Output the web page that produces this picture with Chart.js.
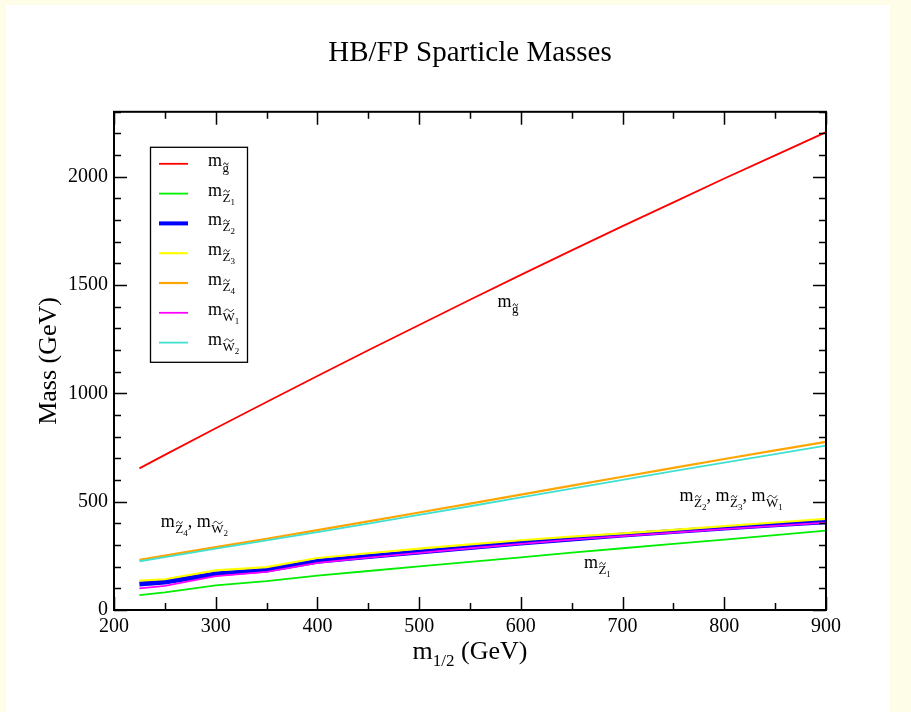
<!DOCTYPE html>
<html>
<head>
<meta charset="utf-8">
<script src="https://cdn.jsdelivr.net/npm/chart.js@4.4.1/dist/chart.umd.min.js"></script>
<style>
  html, body { margin: 0; padding: 0; background: #fdfde8; overflow: hidden; }
  #sheet { position: absolute; left: 6px; top: 5px; width: 884px; height: 707px; background: #fff; }
  #wrap { position: absolute; left: 0; top: 0; width: 911px; height: 712px; }
</style>
</head>
<body>
<div id="sheet"></div>
<div id="wrap"><canvas id="chart"></canvas></div>
<script>
// =======================
// Data
// =======================

const m12 = [225, 250, 300, 350, 400, 450, 500, 550, 600, 650, 700, 750, 800, 850, 900];

const mGluino = [654, 716, 839, 960, 1080, 1199, 1316, 1432, 1547, 1660, 1772, 1882, 1992, 2099, 2206];
const mZ1     = [69, 81, 114, 133, 159, 180, 201, 222, 243, 265, 285, 305, 325, 346, 366];
const mZ2     = [120, 129, 166, 185, 225, 247, 268, 289, 309, 328, 346, 362, 378, 393, 408];
const mZ3     = [136, 142, 183, 198, 240, 262, 283, 303, 322, 339, 354, 370, 387, 404, 421];
const mZ4     = [232, 251, 290, 329, 369, 409, 450, 491, 533, 574, 615, 656, 697, 737, 776];
const mW1     = [100, 111, 156, 176, 218, 242, 264, 285, 305, 325, 341, 357, 373, 388, 403];
const mW2     = [225, 244, 283, 321, 360, 399, 439, 479, 520, 560, 601, 641, 680, 720, 759];

const xTicksMajor = [200, 300, 400, 500, 600, 700, 800, 900];
const yTicksMajor = [0, 500, 1000, 1500, 2000];

const SERIF = '"Liberation Serif", "Times New Roman", serif';

// series: label symbol, index, colour, width, draw order (higher = behind)
const series = [
  { sym: "g", idx: "",  data: mGluino, color: "#ff0000", width: 1.8, order: 1 },
  { sym: "Z", idx: "1", data: mZ1,     color: "#00ee00", width: 1.8, order: 1 },
  { sym: "Z", idx: "2", data: mZ2,     color: "#0000ff", width: 5,   order: 9 },
  { sym: "Z", idx: "3", data: mZ3,     color: "#ffff00", width: 2.2, order: 5 },
  { sym: "Z", idx: "4", data: mZ4,     color: "#ffa500", width: 2.2, order: 5 },
  { sym: "W", idx: "1", data: mW1,     color: "#ff00ff", width: 1.8, order: 2 },
  { sym: "W", idx: "2", data: mW2,     color: "#40e0d0", width: 1.8, order: 2 }
];

// in-plot labels, anchored in data coordinates
const notes = [
  { x: 577, y: 1400, items: [["g", ""]] },
  { x: 246, y: 383,  items: [["Z", "4"], ["W", "2"]] },
  { x: 756, y: 503,  items: [["Z", "2"], ["Z", "3"], ["W", "1"]] },
  { x: 662, y: 194,  items: [["Z", "1"]] }
];


// =======================
// Text helpers
// =======================

function drawTilde(ctx, x, y, w) {
  ctx.save();
  ctx.beginPath();
  ctx.moveTo(x, y + 1);
  ctx.bezierCurveTo(x + w * 0.25, y - 2.2, x + w * 0.4, y - 1.2, x + w * 0.5, y);
  ctx.bezierCurveTo(x + w * 0.6, y + 1.2, x + w * 0.75, y + 2.2, x + w, y - 1);
  ctx.lineWidth = 0.9;
  ctx.strokeStyle = "#000";
  ctx.stroke();
  ctx.restore();
}

// m with a tilde subscript symbol and an optional index; returns end x
function drawMass(ctx, x, y, sym, idx) {
  ctx.fillStyle = "#000";
  ctx.textAlign = "left";
  ctx.textBaseline = "alphabetic";
  ctx.font = `18px ${SERIF}`;
  ctx.fillText("m", x, y);
  x += ctx.measureText("m").width + 0.5;

  ctx.font = `13px ${SERIF}`;
  const sy = y + 6;
  ctx.fillText(sym, x, sy);
  const sw = ctx.measureText(sym).width;
  const ty = sym === "g" ? sy - 8 : sy - 10.5;
  drawTilde(ctx, x + sw * 0.15, ty, sw * 0.75);
  x += sw;

  if (idx) {
    ctx.font = `9px ${SERIF}`;
    ctx.fillText(idx, x, sy + 3);
    x += ctx.measureText(idx).width;
  }
  return x;
}

function drawMassList(ctx, x, y, items) {
  items.forEach((it, i) => {
    if (i > 0) {
      ctx.font = `18px ${SERIF}`;
      ctx.fillText(", ", x, y);
      x += ctx.measureText(", ").width;
    }
    x = drawMass(ctx, x, y, it[0], it[1]);
  });
}


// =======================
// Plugin: frame, inward ticks, legend, labels
// =======================

const decorations = {
  id: "decorations",
  afterDatasetsDraw(chart) {
    const { ctx, chartArea: a, scales } = chart;
    const xs = scales.x, ys = scales.y;

    ctx.save();
    ctx.strokeStyle = "#000";

    // ticks, pointing into the plot on all four sides
    ctx.lineWidth = 1.5;
    ctx.beginPath();
    xs.ticks.forEach(t => {
      const px = Math.round(xs.getPixelForValue(t.value)) + 0.5;
      const len = xTicksMajor.includes(t.value) ? 13 : 7;
      ctx.moveTo(px, a.bottom); ctx.lineTo(px, a.bottom - len);
      ctx.moveTo(px, a.top);    ctx.lineTo(px, a.top + len);
    });
    ys.ticks.forEach(t => {
      const py = Math.round(ys.getPixelForValue(t.value)) + 0.5;
      const len = yTicksMajor.includes(t.value) ? 13 : 7;
      ctx.moveTo(a.left, py);  ctx.lineTo(a.left + len, py);
      ctx.moveTo(a.right, py); ctx.lineTo(a.right - len, py);
    });
    ctx.stroke();

    // frame
    ctx.lineWidth = 2;
    ctx.strokeRect(a.left, a.top, a.right - a.left, a.bottom - a.top);

    // legend
    const lx = a.left + 36, ly = a.top + 35;
    ctx.lineWidth = 1.3;
    ctx.strokeRect(lx + 0.5, ly + 0.5, 97, 215);
    chart.data.datasets.forEach((ds, i) => {
      const ry = ly + 17 + i * 29.8;
      ctx.beginPath();
      ctx.strokeStyle = ds.borderColor;
      ctx.lineWidth = Math.min(ds.borderWidth, 4);
      ctx.moveTo(lx + 9, ry); ctx.lineTo(lx + 38, ry);
      ctx.stroke();
      drawMass(ctx, lx + 58, ry + 2, series[i].sym, series[i].idx);
    });

    // labels inside the plot
    notes.forEach(n => {
      drawMassList(ctx, xs.getPixelForValue(n.x), ys.getPixelForValue(n.y), n.items);
    });

    // x axis title: m_{1/2} (GeV)
    const cx = (a.left + a.right) / 2;
    const by = a.bottom + 49;
    ctx.fillStyle = "#000";
    ctx.textBaseline = "alphabetic";
    ctx.font = `26px ${SERIF}`;
    const wM = ctx.measureText("m").width;
    const wRest = ctx.measureText(" (GeV)").width;
    ctx.font = `17px ${SERIF}`;
    const wSub = ctx.measureText("1/2").width;
    let x = cx - (wM + wSub + wRest) / 2;
    ctx.font = `26px ${SERIF}`;
    ctx.fillText("m", x, by); x += wM;
    ctx.font = `17px ${SERIF}`;
    ctx.fillText("1/2", x, by + 7); x += wSub;
    ctx.font = `26px ${SERIF}`;
    ctx.fillText(" (GeV)", x, by);

    ctx.restore();
  }
};


// =======================
// Chart
// =======================

const datasets = series.map(s => ({
  data: m12.map((x, i) => ({ x, y: s.data[i] })),
  borderColor: s.color,
  backgroundColor: s.color,
  borderWidth: s.width,
  pointRadius: 0,
  showLine: true,
  tension: 0,
  order: s.order
}));

new Chart(document.getElementById("chart"), {
  type: "scatter",
  data: { datasets },
  plugins: [decorations],
  options: {
    responsive: true,
    maintainAspectRatio: false,
    animation: false,
    layout: { padding: { left: 0, right: 85, top: 0, bottom: 0 } },
    plugins: {
      legend: { display: false },
      tooltip: { enabled: false },
      title: {
        display: true,
        fullSize: false,
        text: "HB/FP Sparticle Masses",
        color: "#000",
        font: { family: SERIF, size: 29, weight: "normal", lineHeight: 1.2 },
        padding: { top: 36, bottom: 41 }
      }
    },
    scales: {
      x: {
        type: "linear",
        min: 200,
        max: 900,
        grid: { display: false, drawTicks: false },
        border: { display: false },
        ticks: {
          stepSize: 50,
          autoSkip: false,
          maxRotation: 0,
          padding: 5,
          color: "#000",
          font: { family: SERIF, size: 20 },
          callback: v => (xTicksMajor.includes(v) ? String(v) : "")
        },
        afterFit: s => { s.height = 102; }
      },
      y: {
        type: "linear",
        min: 0,
        max: 2300,
        grid: { display: false, drawTicks: false },
        border: { display: false },
        ticks: {
          stepSize: 100,
          autoSkip: false,
          padding: 6,
          color: "#000",
          font: { family: SERIF, size: 20 },
          callback: v => (yTicksMajor.includes(v) ? String(v) : "")
        },
        title: {
          display: true,
          text: "Mass (GeV)",
          color: "#000",
          font: { family: SERIF, size: 26, lineHeight: 1.2 },
          padding: { top: 34, bottom: 0 }
        },
        afterFit: s => { s.width = 114; }
      }
    }
  }
});
</script>
</body>
</html>
